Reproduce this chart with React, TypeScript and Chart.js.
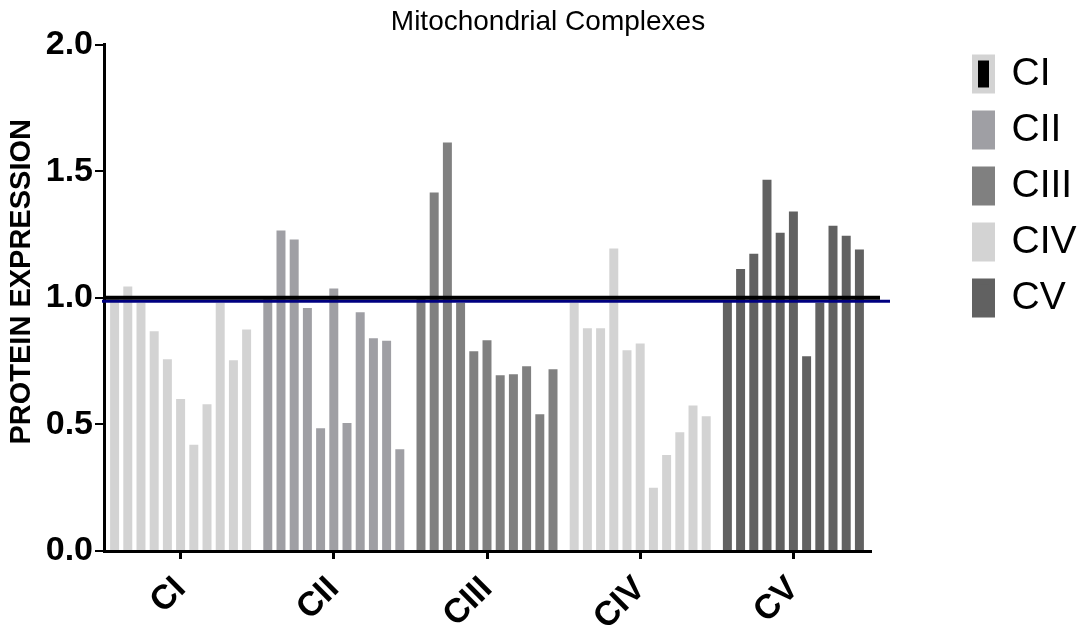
import React, { useEffect, useRef } from "react";
import { Chart, registerables } from "chart.js";

Chart.register(...registerables);

const complexes = ["CI", "CII", "CIII", "CIV", "CV"];
const ciValues = [1.0, 1.045, 0.98, 0.868, 0.757, 0.6, 0.42, 0.58, 0.98, 0.753, 0.875];
const ciiValues = [1.0, 1.266, 1.23, 0.96, 0.485, 1.037, 0.506, 0.943, 0.84, 0.83, 0.402];
const ciiiValues = [1.0, 1.416, 1.613, 0.98, 0.789, 0.832, 0.694, 0.698, 0.73, 0.54, 0.718];
const civValues = [0.98, 0.88, 0.88, 1.195, 0.793, 0.82, 0.25, 0.379, 0.469, 0.575, 0.532];
const cvValues = [0.99, 1.114, 1.174, 1.466, 1.257, 1.341, 0.769, 0.98, 1.285, 1.245, 1.191];
const yTickValues = [0, 0.5, 1.0, 1.5, 2.0];
const refLineValues = [0.986, 1.0];
const yAxisTitle = "PROTEIN EXPRESSION";

const groups = [ciValues, ciiValues, ciiiValues, civValues, cvValues];
const barColors = ["#d3d3d3", "#9f9fa4", "#808080", "#d3d3d3", "#616161"];
const FONT = "'Liberation Sans', Arial, Helvetica, sans-serif";

const refLinePlugin = {
  id: "refLines",
  afterDatasetsDraw(chart: any) {
    const { ctx, chartArea, scales } = chart;
    const styles = [
      { color: "#000080", width: 3, x0: -2, x1: 20 },
      { color: "#000000", width: 4, x0: 1, x1: 10 },
    ];
    refLineValues.forEach((v, i) => {
      const s = styles[i];
      const py = scales.y.getPixelForValue(v);
      ctx.save();
      ctx.strokeStyle = s.color;
      ctx.lineWidth = s.width;
      ctx.beginPath();
      ctx.moveTo(chartArea.left + s.x0, py);
      ctx.lineTo(chartArea.right + s.x1, py);
      ctx.stroke();
      ctx.restore();
    });
  },
};

const yTitlePlugin = {
  id: "yTitle",
  afterDraw(chart: any) {
    const { ctx, scales } = chart;
    const y = scales.y;
    ctx.save();
    ctx.translate(y.left + 7, (y.top + y.bottom) / 2 - 16);
    ctx.rotate(-Math.PI / 2);
    ctx.font = "bold 29px " + FONT;
    ctx.fillStyle = "#000";
    ctx.textAlign = "center";
    ctx.textBaseline = "middle";
    ctx.fillText(yAxisTitle, 0, 0);
    ctx.restore();
  },
};

export default function App() {
  const canvasRef = useRef<HTMLCanvasElement | null>(null);

  useEffect(() => {
    document.body.style.margin = "0";
    document.body.style.overflow = "hidden";
    const nBars = ciValues.length;
    const datasets = Array.from({ length: nBars }, (_, j) => ({
      label: "bar" + j,
      data: groups.map((g) => g[j]),
      backgroundColor: barColors,
      borderWidth: 0,
      categoryPercentage: 0.948,
      barPercentage: 0.68,
      yAxisID: "y",
    }));

    const chart = new Chart(canvasRef.current as HTMLCanvasElement, {
      type: "bar",
      data: { labels: complexes, datasets },
      plugins: [refLinePlugin, yTitlePlugin],
      options: {
        animation: false,
        responsive: true,
        maintainAspectRatio: false,
        layout: { padding: { left: 15, right: 0, top: 0, bottom: 0 } },
        plugins: {
          tooltip: { enabled: false },
          title: {
            display: true,
            text: "Mitochondrial Complexes",
            color: "#000",
            font: { family: FONT, size: 28, weight: "normal" },
            padding: { top: 5, bottom: 6 },
          },
          legend: {
            display: true,
            position: "right",
            align: "start",
            maxWidth: 123,
            title: { display: true, text: "", font: { size: 10 }, padding: { top: 25.5, bottom: 0 } },
            labels: {
              boxWidth: 17,
              boxHeight: 33,
              padding: 17,
              color: "#000",
              font: { family: FONT, size: 39 },
              generateLabels: () =>
                complexes.map((c, i) => ({
                  text: c,
                  fillStyle: i === 0 ? "#000000" : barColors[i],
                  strokeStyle: barColors[i],
                  lineWidth: 6,
                  hidden: false,
                  fontColor: "#000",
                })),
            },
          },
        },
        scales: {
          x: {
            type: "category",
            offset: true,
            afterFit: (s: any) => {
              s.height = 77;
            },
            ticks: {
              color: "#000",
              font: { family: FONT, size: 34, weight: "bold" },
              maxRotation: 45,
              minRotation: 45,
              padding: 10,
            },
            grid: {
              display: true,
              drawOnChartArea: false,
              drawTicks: true,
              tickLength: 8,
              tickWidth: 3,
              color: "#000",
              lineWidth: 3,
              offset: false,
            },
            border: { display: true, color: "#000", width: 3 },
          },
          y: {
            type: "linear",
            position: "left",
            min: 0,
            max: 2,
            afterFit: (s: any) => {
              s.width = 89;
            },
            afterBuildTicks: (s: any) => {
              s.ticks = yTickValues.map((v) => ({ value: v }));
            },
            ticks: {
              color: "#000",
              font: { family: FONT, size: 34, weight: "bold" },
              padding: 2,
              callback: (v: any) => Number(v).toFixed(1),
            },
            grid: {
              display: true,
              drawOnChartArea: false,
              drawTicks: true,
              tickLength: 9,
              tickWidth: 2,
              color: "#000",
              lineWidth: 2,
            },
            border: { display: true, color: "#000", width: 3 },
            title: { display: false },
          },
          yRight: {
            type: "linear",
            position: "right",
            display: true,
            afterFit: (s: any) => {
              s.width = 88;
            },
            ticks: { display: false },
            grid: { display: false },
            border: { display: false },
          },
        },
      } as any,
    });
    return () => chart.destroy();
  }, []);

  return (
    <div style={{ width: 1081, height: 628, position: "relative" }}>
      <canvas ref={canvasRef} />
    </div>
  );
}
